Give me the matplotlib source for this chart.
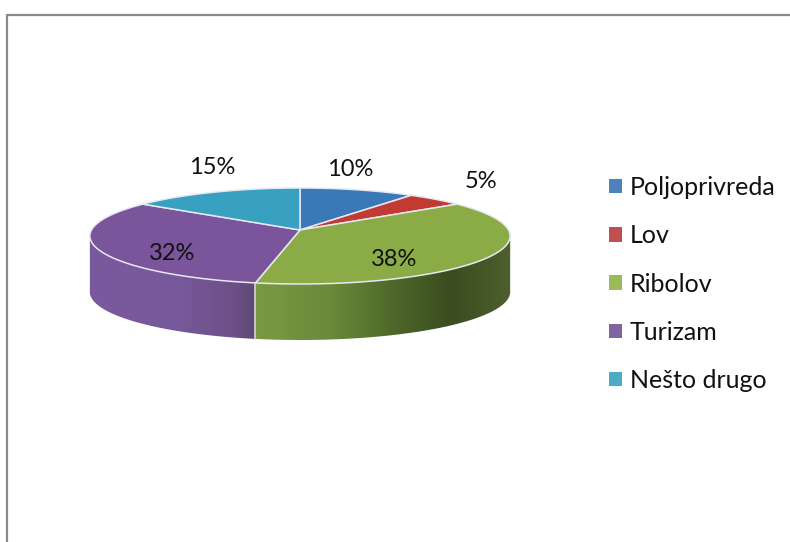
import matplotlib
matplotlib.use("Agg")
import matplotlib.pyplot as plt
from matplotlib.patches import Polygon, Patch
from matplotlib.colors import to_rgb
import numpy as np

plt.rcParams["font.family"] = ["Lato", "DejaVu Sans"]

categories = ["Poljoprivreda", "Lov", "Ribolov", "Turizam", "Nešto drugo"]
values = [10, 5, 38, 32, 15]
top_colors = ["#3b78b8", "#c23b33", "#8aab46", "#7a559c", "#38a0c0"]
legend_colors = ["#4f81bd", "#c0504d", "#9bbb59", "#8064a2", "#4bacc6"]

# perspective disc, in image pixels
CX, CY = 300, 230
RX, RY = 208.5, 47.25
PERSP = 0.125
DEPTH = 56

# shading of the rim, from left to right
green_x = [255, 330, 400, 450, 510]
green_side = ["#7c9a45", "#6b8a3a", "#4c6428", "#3b4d1f", "#4d5f2e"]
purple_x = [90, 180, 230, 255]
purple_side = ["#7a5a9e", "#77589a", "#6d5088", "#5f4a78"]

# label anchors, in image pixels
label_pos = [(350, 169), (481, 181), (394, 259), (172, 253), (212, 168)]


def project(theta):
    u, v = np.sin(np.radians(theta)), np.cos(np.radians(theta))
    s = 1 / (1 + PERSP * v)
    return CX + RX * u * s, CY - RY * v * s


def draw_rim(ax, a, b, xs, colors):
    # horizontal gradient clipped to one piece of the rim
    t = np.linspace(a, b, 120)
    x, y = project(t)
    outline = np.concatenate([np.column_stack([x, y]), np.column_stack([x, y + DEPTH])[::-1]])
    clip = Polygon(outline, closed=True, transform=ax.transData, facecolor="none", edgecolor="none")
    ax.add_patch(clip)
    grid = np.linspace(80, 520, 440)
    rgb = np.array([to_rgb(c) for c in colors])
    img = np.stack([np.interp(grid, xs, rgb[:, i]) for i in range(3)], axis=1)[None, :, :]
    im = ax.imshow(img, extent=(80, 520, 360, 180), aspect="auto", zorder=2, interpolation="bilinear")
    im.set_clip_path(clip)


fig = plt.figure(figsize=(7.9, 5.42), dpi=100)
ax = fig.add_axes([0, 0, 1, 1])
ax.axis("off")

# frame: only top and left are visible
ax.plot([6.5, 790], [15, 15], color="#8c8c8c", lw=1.6, solid_capstyle="butt")
ax.plot([6.5, 6.5], [14, 542], color="#8c8c8c", lw=1.6, solid_capstyle="butt")

edges = np.cumsum([0] + values) * 3.6

# rim, near half only; the silhouette turns where cos(theta) = -PERSP
turn = np.degrees(np.arccos(-PERSP))
draw_rim(ax, turn, edges[3], green_x, green_side)
draw_rim(ax, edges[3], 360 - turn, purple_x, purple_side)

# seam between green and purple on the rim
sx, sy = project(edges[3])
ax.plot([sx, sx], [sy, sy + DEPTH], color="#d4d6cc", lw=1.2, zorder=3)

# top of the slices
for i in range(len(values)):
    t = np.linspace(edges[i], edges[i + 1], 80)
    xs, ys = project(t)
    pts = [(CX, CY)] + list(zip(xs, ys))
    ax.add_patch(Polygon(pts, closed=True, facecolor=top_colors[i], edgecolor="#e6e9f2",
                         lw=1.1, joinstyle="round", zorder=4))

for i, v in enumerate(values):
    ax.text(label_pos[i][0], label_pos[i][1], str(v) + "%", ha="center", va="center",
            fontsize=17, color="#111111", zorder=5)

handles = [Patch(facecolor=c, edgecolor="none", label=n) for c, n in zip(legend_colors, categories)]
ax.set_xlim(0, 790)
ax.set_ylim(542, 0)
ax.legend(handles=handles, loc="center left", bbox_to_anchor=(609, 284),
          bbox_transform=ax.transData, frameon=False, fontsize=18, labelcolor="#111111",
          handlelength=0.52, handleheight=0.52, handletextpad=0.32, labelspacing=1.01,
          borderpad=0, borderaxespad=0)

plt.savefig("out.png", dpi=100)
